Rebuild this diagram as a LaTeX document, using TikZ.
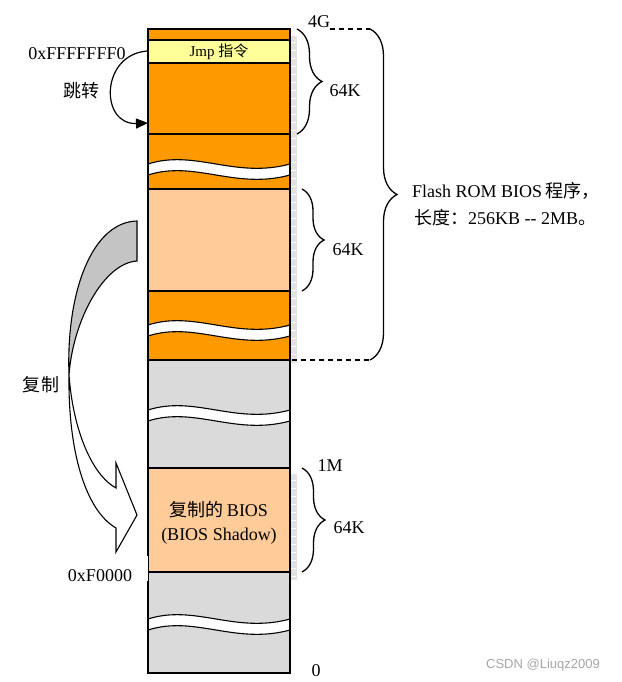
\documentclass[tikz,border=0pt]{standalone}
\usepackage{fontspec}
\setmainfont{Liberation Serif}
\newfontfamily\cjk{Noto Sans CJK SC}
\newfontfamily\wmfont{Liberation Sans}
\usetikzlibrary{decorations.pathreplacing,arrows.meta}
\definecolor{myorange}{HTML}{FF9900}
\definecolor{mylight}{HTML}{FFCC99}
\definecolor{myyellow}{HTML}{FFFF99}
\definecolor{mygray}{HTML}{DADADA}
\definecolor{arrowgray}{HTML}{C4C4C4}
\definecolor{rulergray}{HTML}{E2E2E2}
\newcommand\mywave[1]{%
  \fill[white] (148,#1) .. controls (195,#1-15) and (235,#1+15) .. (290,#1)
     -- (290,#1+11) .. controls (235,#1+26) and (195,#1-4) .. (148,#1+11) -- cycle;
  \draw[line width=1.1] (148,#1) .. controls (195,#1-15) and (235,#1+15) .. (290,#1);
  \draw[line width=1.1] (148,#1+11) .. controls (195,#1-4) and (235,#1+26) .. (290,#1+11);
}
\begin{document}
\begin{tikzpicture}[x=1pt,y=-1pt,
  lbl/.style={inner sep=0pt,font=\fontsize{18}{21}\selectfont},
  small/.style={inner sep=0pt,font=\fontsize{15}{17}\selectfont},
  bline/.style={line width=1.2},
  bracestyle/.style={decorate,line width=1.3,decoration={brace,amplitude=#1}},
]
\useasboundingbox (0,0) rectangle (621,682);
% ruler strip
\fill[rulergray] (290,36) rectangle (297,363);
\fill[rulergray] (290,474) rectangle (297,580);
\foreach \yy in {42,50,...,358} \draw[white,line width=0.5] (291,\yy) -- (296,\yy);
\foreach \yy in {480,488,...,576} \draw[white,line width=0.5] (291,\yy) -- (296,\yy);
% column fills
\fill[myorange] (148,29) rectangle (290,189);
\fill[myyellow] (148,40) rectangle (290,63);
\fill[mylight] (148,189) rectangle (290,291);
\fill[myorange] (148,291) rectangle (290,360);
\fill[mygray] (148,360) rectangle (290,468);
\fill[mylight] (148,468) rectangle (290,572);
\fill[mygray] (148,572) rectangle (290,673);
% separators
\foreach \yy in {40,63,134,189,291,360,468,572} \draw[bline] (148,\yy) -- (290,\yy);
% waves
\mywave{164}
\mywave{325}
\mywave{410}
\mywave{619}
% outline
\draw[bline] (148,29) rectangle (290,673);
\fill[white] (140,556) rectangle (147.5,581);
% texts in column
\node[small] (jmp) at (219,52) {Jmp {\cjk 指令}};
\node[lbl] (shadow1) at (219,510) {{\cjk 复制的}\,BIOS};
\node[lbl] (shadow2) at (219,536) {(BIOS Shadow)};
% jump arrow
\coordinate (jmpL) at (147,51);
\coordinate (jmpT) at (148,123);
\draw[line width=1.2,-{Triangle[length=12,width=10]}] (jmpL) .. controls (100,55) and (100,125) .. (jmpT);
\node[lbl] (addrTop) at (77,54) {0xFFFFFFF0};
\node[lbl,font=\cjk\fontsize{18}{21}\selectfont] (jumpLbl) at (81,91) {跳转};
% copy arrow
\filldraw[fill=arrowgray,line width=1.1] (137,221) .. controls (92,222) and (66,292) .. (69,375)
   .. controls (73,320) and (104,263) .. (137,261) -- cycle;
\filldraw[fill=white,line width=1.1] (69,375) .. controls (68,450) and (85,510) .. (116,528)
   -- (116,552) -- (137,515) -- (116,463) -- (116,488)
   .. controls (92,475) and (73,430) .. (69,375) -- cycle;
\node[lbl,font=\cjk\fontsize{18}{21}\selectfont] (copyLbl) at (41,385) {复制};
\node[lbl] (addrF) at (100,576) {0xF0000};
% right labels
\node[lbl] (fourG) at (319,22) {4G};
\node[lbl] (oneM) at (330,466) {1M};
\node[lbl] (zero) at (316,671) {0};
\draw[bracestyle=25] (297,29) -- (297,134);
\node[lbl] (k1) at (345,91) {64K};
\draw[bracestyle=22] (302,189) -- (302,291);
\node[lbl] (k2) at (348,250) {64K};
\draw[bracestyle=23] (302,468) -- (302,572);
\node[lbl] (k3) at (349,528) {64K};
\draw[line width=1.1,dash pattern=on 5pt off 4pt] (330,29) -- (370,29);
\draw[line width=1.1,dash pattern=on 5pt off 4pt] (292,360) -- (370,360);
\draw[bracestyle=27] (370,29) -- (370,360);
\node[lbl,anchor=west] (flash1) at (412,191) {Flash ROM BIOS\,{\cjk 程序，}};
\node[lbl,anchor=west] (flash2) at (414,218) {{\cjk 长度：}256KB {-}{-} 2MB{\cjk 。}};
\node[inner sep=0pt,text=gray!70,font=\wmfont\fontsize{13}{15}\selectfont] (wm) at (543,665) {CSDN @Liuqz2009};
\end{tikzpicture}
\end{document}
